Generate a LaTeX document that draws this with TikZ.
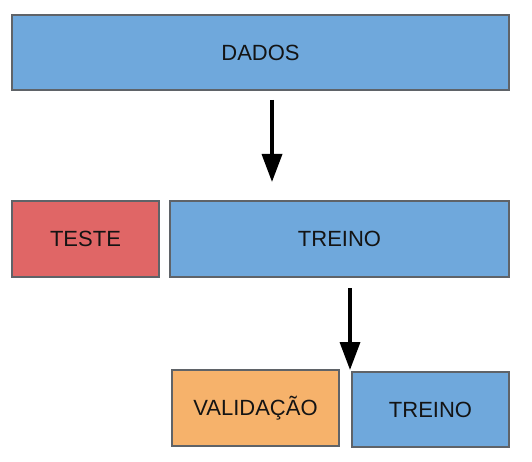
\documentclass[tikz,border=0pt]{standalone}
\usepackage{fontspec}
\setmainfont{Liberation Sans}
\usetikzlibrary{arrows.meta}
\definecolor{boxblue}{HTML}{6FA8DC}
\definecolor{boxred}{HTML}{E06666}
\definecolor{boxorange}{HTML}{F6B26B}
\definecolor{boxedge}{HTML}{5F6368}
\definecolor{txt}{HTML}{141414}
\tikzset{
  block/.style={draw=boxedge, line width=1.3pt, inner sep=0pt, text=txt,
    font=\fontsize{22}{25}\selectfont},
  flow/.style={line width=3.5pt, -{Triangle[width=20pt,length=28pt]}}
}
\begin{document}
\begin{tikzpicture}[x=1pt,y=-1pt]
\useasboundingbox (0,0) rectangle (532,462);
\node[block, fill=boxblue, minimum width=497pt, minimum height=75pt] (dados) at (260.5,52.5) {DADOS};
\node[block, fill=boxred, minimum width=147pt, minimum height=76pt] (teste) at (85.5,239) {TESTE};
\node[block, fill=boxblue, minimum width=339pt, minimum height=76pt] (treino) at (339.5,239) {TREINO};
\node[block, fill=boxorange, minimum width=167pt, minimum height=76pt] (valid) at (255.5,408) {VALIDAÇÃO};
\node[block, fill=boxblue, minimum width=157pt, minimum height=75pt] (treinob) at (430.5,409.5) {TREINO};
\coordinate (a1s) at (272,100);
\coordinate (a1e) at (272,182);
\coordinate (a2s) at (350,288);
\coordinate (a2e) at (350,370);
\draw[flow] (a1s) -- (a1e);
\draw[flow] (a2s) -- (a2e);
\end{tikzpicture}
\end{document}
